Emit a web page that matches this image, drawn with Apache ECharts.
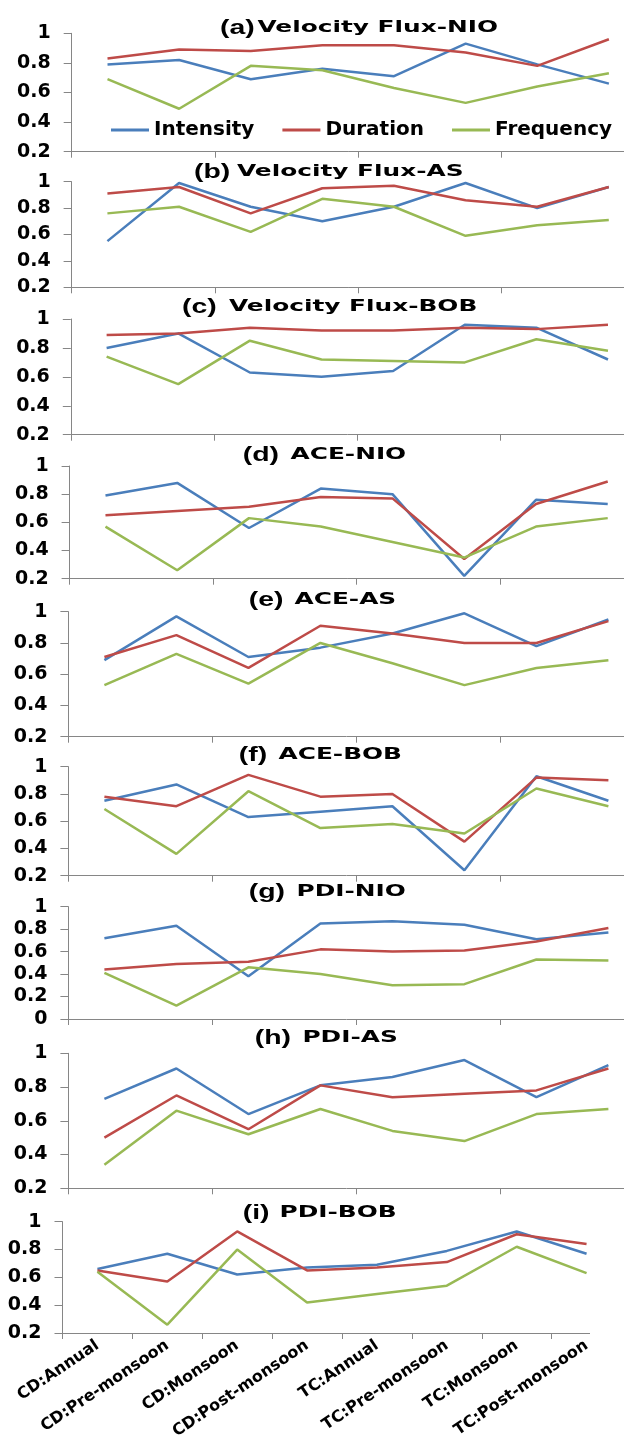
<!DOCTYPE html>
<html><head><meta charset="utf-8">
<script src="https://cdn.jsdelivr.net/npm/echarts@6/dist/echarts.min.js"></script>
<style>html,body{margin:0;padding:0;background:#fff}#c{width:624px;height:1437px}</style>
</head><body><div id="c"></div>
<script>
// ---------- DATA ----------
const categories = ['CD:Annual','CD:Pre-monsoon','CD:Monsoon','CD:Post-monsoon','TC:Annual','TC:Pre-monsoon','TC:Monsoon','TC:Post-monsoon'];
const seriesNames = ['Intensity','Duration','Frequency'];

const aIntensity = [0.79,0.82,0.69,0.76,0.71,0.93,0.79,0.66];
const aDuration  = [0.83,0.89,0.88,0.92,0.92,0.87,0.78,0.96];
const aFrequency = [0.69,0.49,0.78,0.75,0.63,0.53,0.64,0.73];

const bIntensity = [0.55,0.99,0.81,0.70,0.81,0.99,0.80,0.96];
const bDuration  = [0.91,0.96,0.76,0.95,0.97,0.86,0.81,0.96];
const bFrequency = [0.76,0.81,0.62,0.87,0.81,0.59,0.67,0.71];

const cIntensity = [0.80,0.90,0.63,0.60,0.64,0.96,0.94,0.72];
const cDuration  = [0.89,0.90,0.94,0.92,0.92,0.94,0.93,0.96];
const cFrequency = [0.74,0.55,0.85,0.72,0.71,0.70,0.86,0.78];

const dIntensity = [0.79,0.88,0.56,0.84,0.80,0.22,0.76,0.73];
const dDuration  = [0.65,0.68,0.71,0.78,0.77,0.34,0.73,0.89];
const dFrequency = [0.57,0.26,0.63,0.57,0.46,0.35,0.57,0.63];

const eIntensity = [0.69,0.97,0.71,0.77,0.86,0.99,0.78,0.95];
const eDuration  = [0.71,0.85,0.64,0.91,0.86,0.80,0.80,0.94];
const eFrequency = [0.53,0.73,0.54,0.80,0.67,0.53,0.64,0.69];

const fIntensity = [0.75,0.87,0.63,0.67,0.71,0.24,0.93,0.75];
const fDuration  = [0.78,0.71,0.94,0.78,0.80,0.45,0.92,0.90];
const fFrequency = [0.69,0.36,0.82,0.55,0.58,0.51,0.84,0.71];

const gIntensity = [0.72,0.83,0.38,0.85,0.87,0.84,0.71,0.77];
const gDuration  = [0.44,0.49,0.51,0.62,0.60,0.61,0.69,0.81];
const gFrequency = [0.41,0.12,0.46,0.40,0.30,0.31,0.53,0.52];

const hIntensity = [0.73,0.91,0.64,0.81,0.86,0.96,0.74,0.93];
const hDuration  = [0.50,0.75,0.55,0.81,0.74,0.76,0.78,0.91];
const hFrequency = [0.34,0.66,0.52,0.67,0.54,0.48,0.64,0.67];

const iIntensity = [0.66,0.77,0.62,0.67,0.69,0.79,0.93,0.77];
const iDuration  = [0.65,0.57,0.93,0.65,0.67,0.71,0.91,0.84];
const iFrequency = [0.64,0.26,0.80,0.42,0.48,0.54,0.82,0.63];

const panelLetters = ['(a)','(b)','(c)','(d)','(e)','(f)','(g)','(h)','(i)'];
const panelNames = ['Velocity Flux-NIO','Velocity Flux-AS','Velocity Flux-BOB','ACE-NIO','ACE-AS','ACE-BOB','PDI-NIO','PDI-AS','PDI-BOB'];
const yMins = [0.2,0.2,0.2,0.2,0.2,0.2,0,0.2,0.2];
const yMax = 1;
const yStep = 0.2;

const panelData = [
  [aIntensity,aDuration,aFrequency],
  [bIntensity,bDuration,bFrequency],
  [cIntensity,cDuration,cFrequency],
  [dIntensity,dDuration,dFrequency],
  [eIntensity,eDuration,eFrequency],
  [fIntensity,fDuration,fFrequency],
  [gIntensity,gDuration,gFrequency],
  [hIntensity,hDuration,hFrequency],
  [iIntensity,iDuration,iFrequency]
];

// ---------- LAYOUT / STYLE ----------
const colors = ['#4A7EBB','#BE4B48','#98B954'];
const grids = [
  {left:71.7, top:33.3,  height:118.4, width:573},
  {left:71.6, top:181.7, height:105.6, width:573},
  {left:70.8, top:319,   height:115.7, width:573},
  {left:69.6, top:466,   height:112.7, width:574},
  {left:68.4, top:611.7, height:125,   width:576},
  {left:68.4, top:766.7, height:109,   width:576},
  {left:68.4, top:906.7, height:112.3, width:576},
  {left:68.4, top:1053.3,height:135,   width:576},
  {left:62.5, top:1221.7,height:111.3, width:559}
];
// [letter x, name x, centre y]
const titlePos = [
  [220,257.5,28],[194,237,171.5],[182,229,306.5],[242.7,290.5,455],[248.7,294.5,600],
  [238.8,278.5,755],[248.7,296.5,891.7],[254.7,302.4,1038.3],[242.7,279.5,1213.3]
];
const axisGray = '#868686';
const font = '"DejaVu Sans", sans-serif';

const graphics = [];
panelLetters.forEach((p,i) => {
  graphics.push({
    type:'text', x:titlePos[i][0], y:titlePos[i][2] + 0.5, scaleX:1.42, z:100,
    style:{text:p, fontFamily:'"Liberation Sans", Arial, sans-serif', fontWeight:'bold', fontSize:20,
           fill:'#000', align:'left', verticalAlign:'middle'}
  });
  graphics.push({
    type:'text', x:titlePos[i][1], y:titlePos[i][2], scaleX:1.55, z:100,
    style:{text:panelNames[i], fontFamily:font, fontWeight:'bold', fontSize:16,
           fill:'#000', align:'left', verticalAlign:'middle'}
  });
});
// the bottom panel of the source image is cropped on its right side
graphics.push({type:'rect', z:90, shape:{x:590, y:1215, width:40, height:128}, style:{fill:'#ffffff'}});

const option = {
  animation:false,
  backgroundColor:'#ffffff',
  legend:{
    data: seriesNames, left:111, top:120, padding:0, itemGap:28,
    icon:'rect', itemWidth:38, itemHeight:3,
    textStyle:{fontFamily:font, fontWeight:'bold', fontSize:20, color:'#000'}
  },
  grid: grids.map(g => Object.assign({containLabel:false, outerBoundsMode:'none'}, g)),
  xAxis: grids.map((g,i) => ({
    type:'category', gridIndex:i, data:categories, boundaryGap:true,
    axisLine:{show:true, lineStyle:{color:axisGray, width:1}},
    axisTick:{show:true, length:6, lineStyle:{color:axisGray}},
    axisLabel: i===8 ? {show:true, interval:0, rotate:34, margin:11, fontFamily:font, fontWeight:'bold', fontSize:16, color:'#000'} : {show:false}
  })),
  yAxis: grids.map((g,i) => ({
    type:'value', gridIndex:i, min:yMins[i], max:yMax, interval:yStep,
    axisLine:{show:true, lineStyle:{color:axisGray, width:1}},
    axisTick:{show:true, length:8, lineStyle:{color:axisGray}},
    splitLine:{show:false},
    axisLabel:{margin:21, fontFamily:font, fontWeight:'bold', fontSize:19, color:'#000'}
  })),
  series: [],
  graphic: graphics
};
panelData.forEach((arrs,i) => {
  arrs.forEach((vals,k) => {
    option.series.push({
      type:'line', name:seriesNames[k], xAxisIndex:i, yAxisIndex:i, data:vals,
      showSymbol:false, symbol:'none', smooth:false,
      lineStyle:{color:colors[k], width:2.5}, itemStyle:{color:colors[k]}
    });
  });
});
const chart = echarts.init(document.getElementById('c'), null, {renderer:'canvas'});
chart.setOption(option);
</script>
</body></html>
